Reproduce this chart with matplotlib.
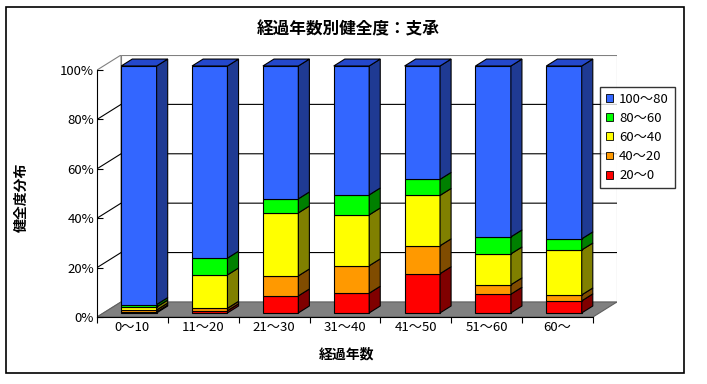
import numpy as np
import matplotlib
matplotlib.use("Agg")
import matplotlib.pyplot as plt
from matplotlib.patches import Polygon, Rectangle, Patch

plt.rcParams['font.family'] = ['Noto Sans CJK JP', 'DejaVu Sans']

# data (percent of members per condition band)
categories = ["0～10", "11～20", "21～30", "31～40", "41～50", "51～60", "60～"]
series_labels = ["20～0", "40～20", "60～40", "80～60", "100～80"]
red = [0.4, 0.9, 6.9, 8.0, 15.9, 7.6, 4.9]
orange = [0.8, 1.0, 8.1, 11.1, 11.3, 3.8, 2.4]
yellow = [1.2, 13.5, 25.5, 20.6, 20.4, 12.5, 18.2]
green = [1.0, 6.8, 5.7, 8.1, 6.5, 6.9, 4.5]
blue = [100 - (r + o + y + g) for r, o, y, g in zip(red, orange, yellow, green)]
series = [red, orange, yellow, green, blue]

front_cols = ["#FF0000", "#FF9900", "#FFFF00", "#00FF00", "#3366FF"]
side_cols = ["#800000", "#804C00", "#808000", "#008000", "#1F3A93"]
top_col = "#2448CC"

# layout (pixels of a 707x384 canvas)
W, H = 707, 384
XPX = 495 / 7.0          # px per category
YPX = 2.46               # px per percent
DX = 24 / XPX            # depth offset in data units
DY = 15 / YPX
F0, F1 = 0.27, 0.73      # bar depth range
BW = 0.5

fig = plt.figure(figsize=(W / 100, H / 100), dpi=100)
fig.patches.append(Rectangle((6 / W, 1 - 373 / H), 678 / W, 366 / H,
                             transform=fig.transFigure, fill=False,
                             edgecolor="black", lw=1.2))

ax = fig.add_axes([97 / W, 1 - 317 / H, 520 / W, 262 / H])
ax.set_xlim(-0.5, 6.5 + DX)
ax.set_ylim(0, 100 + DY)
ax.patch.set_visible(False)

x0, x1 = -0.5, len(categories) - 0.5
# walls and floor
ax.add_patch(Polygon([(x0, 0), (x0 + DX, DY), (x0 + DX, 100 + DY), (x0, 100)],
                     closed=True, facecolor="white", edgecolor="#808080", lw=0.8, zorder=0))
ax.add_patch(Polygon([(x0 + DX, DY), (x1 + DX, DY), (x1 + DX, 100 + DY), (x0 + DX, 100 + DY)],
                     closed=True, facecolor="white", edgecolor="#808080", lw=0.8, zorder=0))
ax.add_patch(Polygon([(x0, 0), (x1, 0), (x1 + DX, DY), (x0 + DX, DY)],
                     closed=True, facecolor="#808080", edgecolor="#606060", lw=0.8, zorder=1))

for v in [20, 40, 60, 80]:
    ax.plot([x0, x0 + DX, x1 + DX], [v, v + DY, v + DY], color="black", lw=0.8, zorder=1)

# bars
x = np.arange(len(categories))
xf = x + F0 * DX - BW / 2
d = F1 - F0
bottom = np.zeros(len(categories))
handles = []
for vals, fc, sc, lab in zip(series, front_cols, side_cols, series_labels):
    vals = np.array(vals)
    ax.bar(xf, vals, width=BW, bottom=bottom + F0 * DY, align="edge",
           color=fc, edgecolor="black", lw=0.8, zorder=3)
    for xi, b, v in zip(xf, bottom, vals):
        xr = xi + BW
        yb, yt = b + F0 * DY, b + v + F0 * DY
        ax.add_patch(Polygon([(xr, yb), (xr + d * DX, yb + d * DY), (xr + d * DX, yt + d * DY), (xr, yt)],
                             closed=True, facecolor=sc, edgecolor="black", lw=0.8, zorder=3))
    bottom = bottom + vals
    handles.append(Patch(facecolor=fc, edgecolor="black", lw=0.6, label=lab))

for xi, t in zip(xf, bottom):
    yt = t + F0 * DY
    ax.add_patch(Polygon([(xi, yt), (xi + BW, yt), (xi + BW + d * DX, yt + d * DY), (xi + d * DX, yt + d * DY)],
                         closed=True, facecolor=top_col, edgecolor="black", lw=0.8, zorder=3))

# axes
for s in ["top", "right"]:
    ax.spines[s].set_visible(False)
ax.spines["left"].set_bounds(0, 100)
ax.spines["bottom"].set_bounds(x0, x1)
ax.spines["left"].set_zorder(4)
ax.spines["bottom"].set_zorder(4)

ax.set_yticks([0, 20, 40, 60, 80, 100])
ax.set_yticklabels([f"{v}%" for v in [0, 20, 40, 60, 80, 100]], fontsize=9.5)
ax.tick_params(axis="y", direction="in", length=4, pad=2)

ax.set_xticks(np.arange(x0, x1 + 0.01, 1.0))
ax.set_xticklabels([])
ax.set_xticks(x, minor=True)
ax.set_xticklabels(categories, minor=True, fontsize=9.5)
ax.tick_params(axis="x", which="major", direction="out", length=4)
ax.tick_params(axis="x", which="minor", length=0, pad=3)

fig.text(348 / W, 1 - 29 / H, "経過年数別健全度：支承", ha="center", va="center",
         fontsize=12, fontweight="bold")
fig.text(347 / W, 1 - 355 / H, "経過年数", ha="center", va="center",
         fontsize=10, fontweight="bold")
fig.text(22 / W, 1 - 197 / H, "健全度分布", ha="center", va="center",
         fontsize=10, fontweight="bold", rotation=90)

leg = fig.legend(handles=handles[::-1], loc="upper left",
                 bbox_to_anchor=(600 / W, 1 - 87 / H), bbox_transform=fig.transFigure,
                 fontsize=9.5, frameon=True, fancybox=False, edgecolor="black",
                 handlelength=0.55, handleheight=0.55, handletextpad=0.45,
                 labelspacing=0.46, borderpad=0.45, borderaxespad=0)
leg.get_frame().set_linewidth(1.0)

fig.savefig("out.png", dpi=100)
